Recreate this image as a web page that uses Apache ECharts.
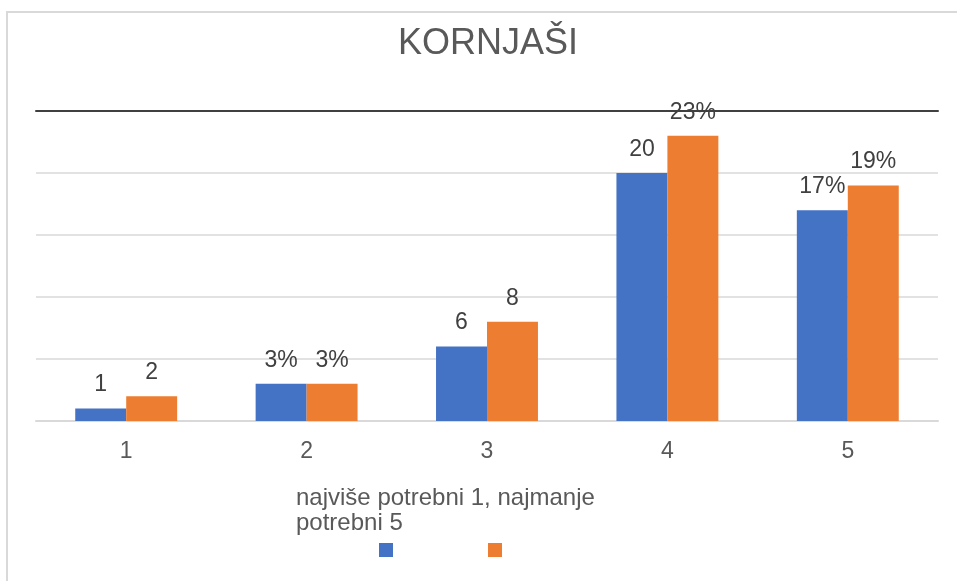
<!DOCTYPE html>
<html>
<head>
<meta charset="utf-8">
<script src="https://cdn.jsdelivr.net/npm/echarts@6/dist/echarts.min.js"></script>
<style>html,body{margin:0;padding:0;background:#fff}#c{width:957px;height:581px}</style>
</head>
<body>
<div id="c"></div>
<script>
const categories = ['1', '2', '3', '4', '5'];
const seriesNames = ['broj učenika', 'postotak učenika'];
const blueValues = [1, 3, 6, 20, 17];
const orangeValues = [2, 3, 8, 23, 19];
const blueLabels = ['1', '3%', '6', '20', '17%'];
const orangeLabels = ['2', '3%', '8', '23%', '19%'];
const titleText = 'KORNJAŠI';
const axisTitle = 'najviše potrebni 1, najmanje\npotrebni 5';

const FONT = '"Liberation Sans", Arial, sans-serif';
const chart = echarts.init(document.getElementById('c'), null, {renderer: 'canvas'});

function labelCfg(arr) {
  return {
    show: true, position: 'top', distance: 12,
    color: '#404040', fontSize: 23, fontFamily: FONT,
    formatter: p => arr[p.dataIndex]
  };
}

chart.setOption({
  backgroundColor: '#fff',
  animation: false,
  title: {
    text: titleText, left: 483, top: 21, textAlign: 'center',
    textStyle: {fontSize: 36, fontWeight: 'normal', color: '#595959', fontFamily: FONT}
  },
  legend: {
    left: 374, top: 538, itemWidth: 14, itemHeight: 14, itemGap: 95,
    icon: 'rect', formatter: () => '',
    data: seriesNames
  },
  grid: {left: 36, right: 19, top: 111, bottom: 160},
  xAxis: [{
    type: 'category', data: categories,
    axisLine: {lineStyle: {color: '#d9d9d9', width: 2}},
    axisTick: {show: false},
    axisLabel: {color: '#595959', fontSize: 23, fontFamily: FONT, margin: 19}
  }, {
    type: 'category', data: categories, position: 'top',
    axisLine: {show: true, lineStyle: {color: '#404040', width: 2}},
    axisTick: {show: false}, axisLabel: {show: false}
  }],
  yAxis: {
    type: 'value', min: 0, max: 25, interval: 5,
    axisLabel: {show: false}, axisLine: {show: false}, axisTick: {show: false},
    splitLine: {lineStyle: {color: '#d9d9d9', width: 1.5}}
  },
  series: [{
    name: seriesNames[0], type: 'bar', data: blueValues,
    itemStyle: {color: '#4472C4'}, barGap: '0%', barCategoryGap: '43.5%',
    label: labelCfg(blueLabels)
  }, {
    name: seriesNames[1], type: 'bar', data: orangeValues,
    itemStyle: {color: '#ED7D31'}, barGap: '0%', barCategoryGap: '43.5%',
    label: labelCfg(orangeLabels)
  }],
  graphic: [{
    type: 'rect', silent: true, z: -10,
    shape: {x: 7, y: 12, width: 1100, height: 1000},
    style: {fill: 'none', stroke: '#d9d9d9', lineWidth: 2}
  }, {
    type: 'text', left: 296, top: 486,
    style: {text: axisTitle, fill: '#595959', font: '24px ' + FONT, lineHeight: 25}
  }]
});
</script>
</body>
</html>
